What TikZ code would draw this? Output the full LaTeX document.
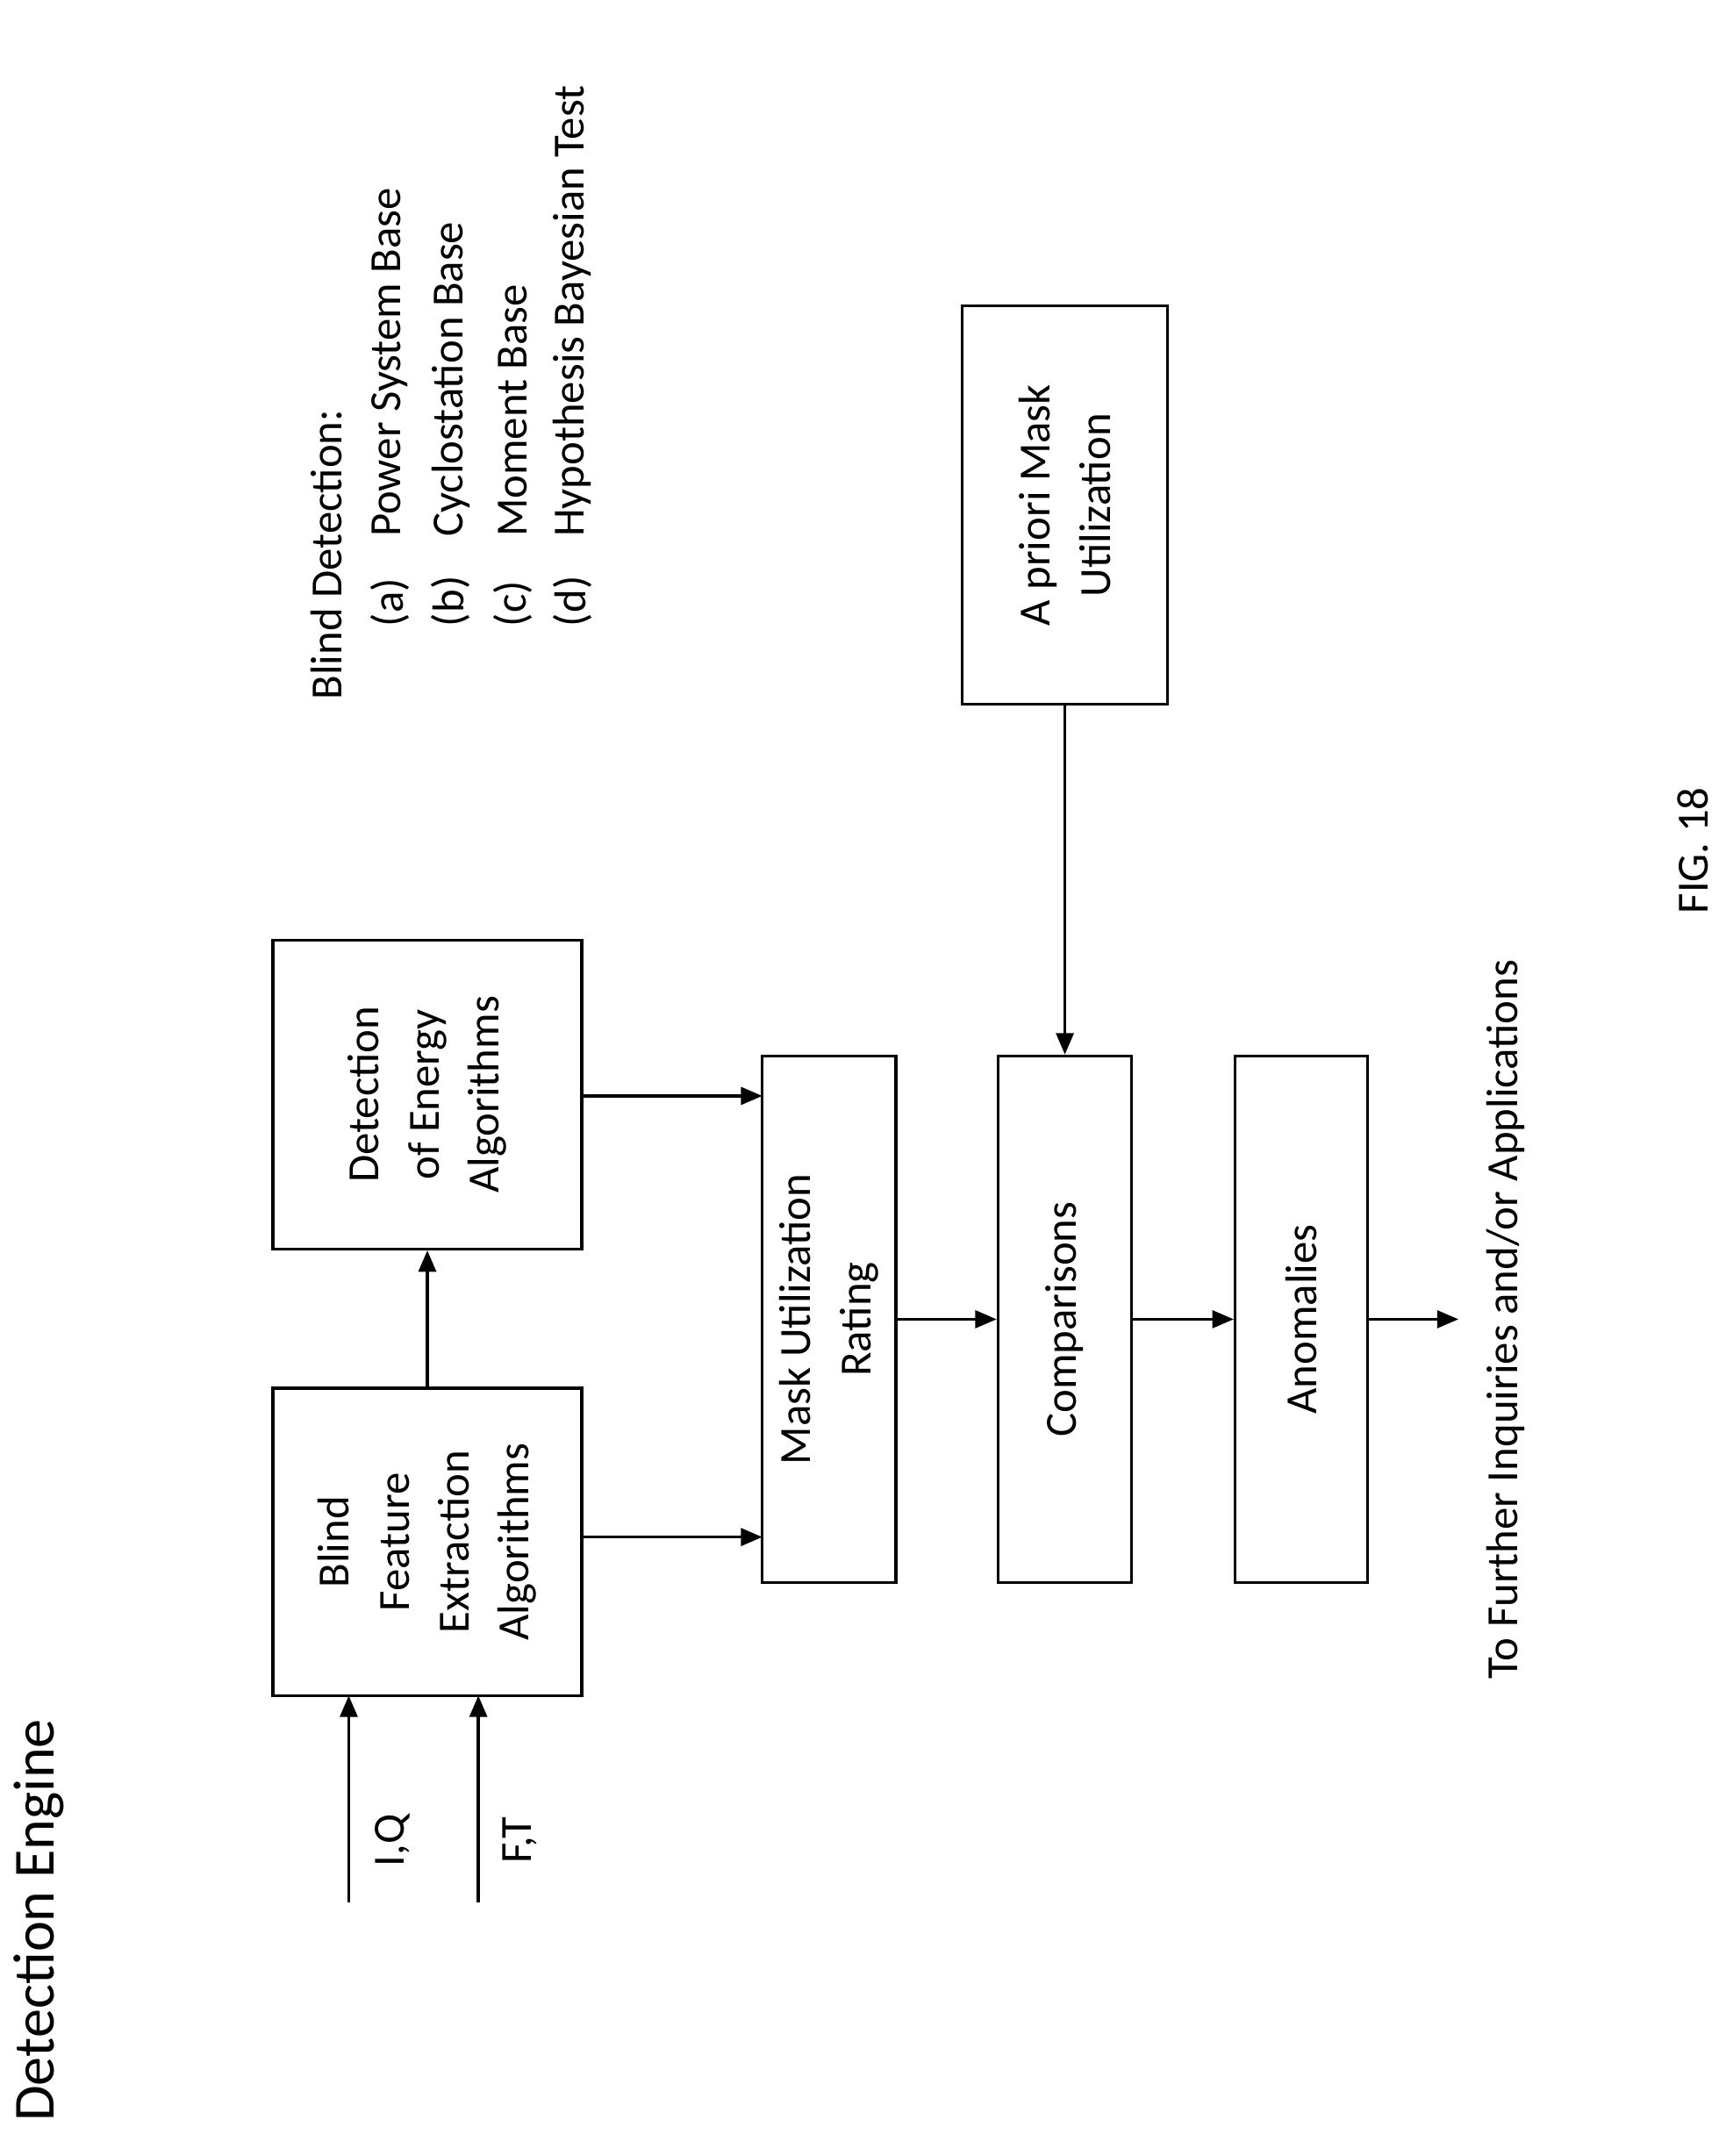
\documentclass[tikz,border=0pt]{standalone}
\usepackage{fontspec}
\setmainfont{Carlito}
\usetikzlibrary{arrows.meta}
\begin{document}
\begin{tikzpicture}[x=0.05cm,y=-0.05cm,
  box/.style={draw,line width=3pt,inner sep=0pt},
  txt/.style={rotate=90,font=\fontsize{46}{62}\selectfont,align=center},
  arr/.style={line width=3pt,-{Triangle[length=22pt,width=18pt]}}]
\useasboundingbox (0,0) rectangle (1252,1564);
\node[box,minimum width=11.2cm,minimum height=11.15cm] (bf) at (310,1118.5) {};
\node[txt] at (bf) {Blind\\Feature\\Extraction\\Algorithms};
\node[box,minimum width=11.2cm,minimum height=11.2cm] (de) at (310,794) {};
\node[txt] at (de) {Detection\\of Energy\\Algorithms};
\node[box,minimum width=4.85cm,minimum height=19.1cm] (mu) at (601.5,957) {};
\node[txt] at (mu) {Mask Utilization\\Rating};
\node[box,minimum width=4.85cm,minimum height=19.1cm] (co) at (772.5,957) {};
\node[txt] at (co) {Comparisons};
\node[box,minimum width=4.8cm,minimum height=19.1cm] (an) at (944,957) {};
\node[txt] at (an) {Anomalies};
\node[box,minimum width=7.45cm,minimum height=14.45cm] (ap) at (772.5,366.5) {};
\node[txt] at (ap) {A priori Mask\\Utilization};
\coordinate (iq) at (253,1380); \coordinate (ft) at (347,1380);
\draw[arr] (iq) -- (253,1230);
\draw[arr] (ft) -- (347,1230);
\node[txt] at (285,1335) {I,Q};
\node[txt] at (377,1335) {F,T};
\draw[arr] (bf.north) -- (de.south);
\draw[arr] (422,1115) -- (553,1115);
\draw[arr] (422,795) -- (553,795);
\draw[arr] (mu) -- (co);
\draw[arr] (co) -- (an);
\coordinate (out) at (1058,957);
\draw[arr] (an) -- (out);
\draw[arr] (ap.south) -- (co.north);
\node[txt] at (1092,957) {To Further Inquiries and/or Applications};
\node[txt] at (1228,617) {FIG. 18};
\node[txt,font=\fontsize{60}{70}\selectfont] at (28,1393) {Detection Engine};
\node[txt,anchor=west] at (237,510) {Blind Detection:};
\foreach \x/\l/\t in {283/(a)/Power System Base,327/(b)/Cyclostation Base,372/(c)/Moment Base,415/(d)/Hypothesis Bayesian Test}{
  \node[txt,anchor=west] at (\x,457) {\l};
  \node[txt,anchor=west] at (\x,392) {\t};
}
\end{tikzpicture}
\end{document}
